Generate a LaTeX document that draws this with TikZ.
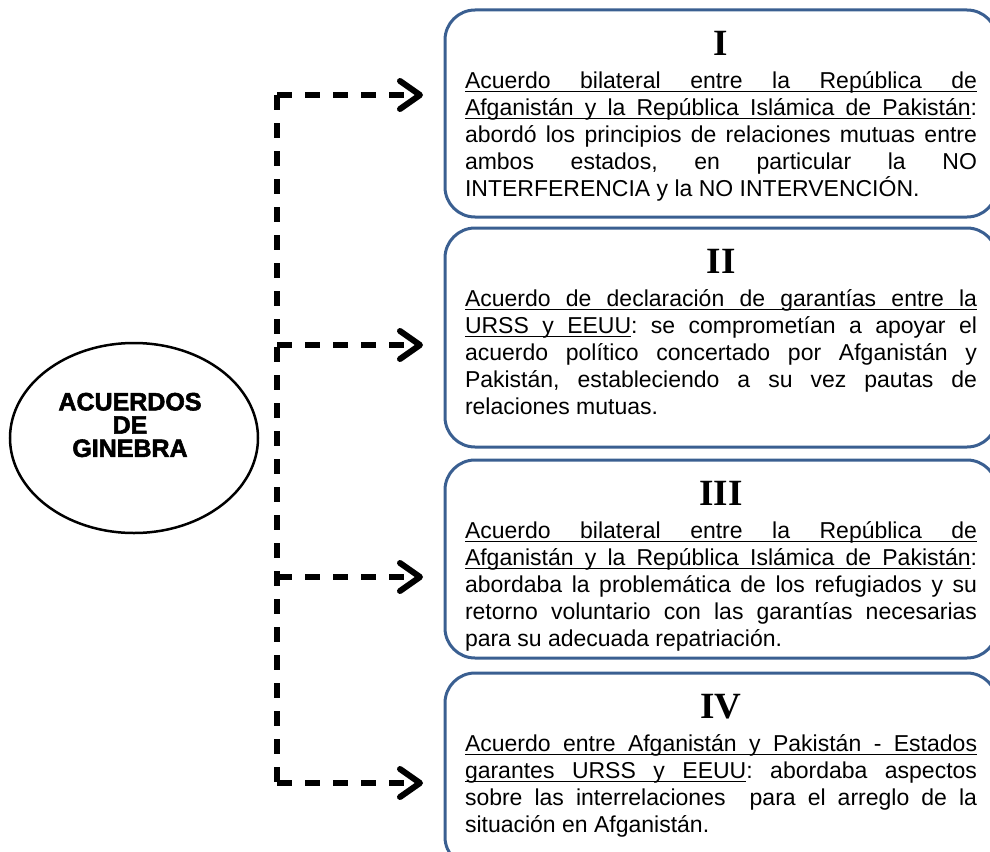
\documentclass[tikz,border=0pt]{standalone}
\usepackage{fontspec}
\setmainfont{Liberation Serif}
\setsansfont{Liberation Sans}
\newfontfamily\blackfont[FakeBold=2.2]{Liberation Sans Bold}
\usetikzlibrary{arrows.meta,positioning,shapes.geometric}
\definecolor{frame}{RGB}{58,95,145}
\definecolor{ink}{RGB}{0,0,0}
\tikzset{
  spine/.style={draw=ink,line width=6pt,dash pattern=on 15pt off 13pt},
  flow/.style={spine,shorten >=22pt,
    -{Straight Barb[length=20pt,width=28pt,line cap=round,line join=round]}},
  accord/.style={draw=frame,line width=3pt,rounded corners=30pt,outer sep=0pt,
    inner xsep=20pt,inner ysep=21pt,
    font=\sffamily\fontsize{23}{27}\selectfont\frenchspacing},
  oval/.style={ellipse,draw=ink,line width=2.5pt,minimum width=248pt,minimum height=190pt},
  title/.style={font=\blackfont\fontsize{25}{23.3}\selectfont,align=center},
}
% underlined word and underlined space
\newcommand{\uw}[1]{\leavevmode\setbox0=\hbox{#1}\rlap{\rule[-4pt]{\wd0}{1.3pt}}\box0}
\newcommand{\us}{\leaders\hrule height -2.7pt depth 4pt\hskip\fontdimen2\font plus\fontdimen3\font minus\fontdimen4\font\relax}
\newcommand{\numeral}[1]{{\centering\rmfamily\bfseries\fontsize{37}{37}\selectfont #1\par}\vspace{6pt}\noindent}

\begin{document}
\begin{tikzpicture}[x=1pt,y=-1pt]
  \useasboundingbox (0,0) rectangle (990,851);
  \clip (0,0) rectangle (990,851);
  % central oval
  \node[oval] (gen) at (134,438) {};
  \node[title] (gentitle) at (130,425) {ACUERDOS\\DE\\GINEBRA};
  % the four accords
  \node[accord,anchor=north west] (b1) at (445,10) {\parbox[c][165pt][t]{512pt}{\numeral{I}%
    \uw{Acuerdo}\us\uw{bilateral}\us\uw{entre}\us\uw{la}\us\uw{República}\us\uw{de}\linebreak
    \uw{Afganistán}\us\uw{y}\us\uw{la}\us\uw{República}\us\uw{Islámica}\us\uw{de}\us\uw{Pakistán}: abordó los principios de relaciones mutuas entre\linebreak
    ambos estados, en particular la NO\linebreak
    INTERFERENCIA y la NO INTERVENCIÓN.}};
  \node[accord,below=11pt of b1] (b2) {\parbox[c][177pt][t]{512pt}{\numeral{II}%
    \uw{Acuerdo}\us\uw{de}\us\uw{declaración}\us\uw{de}\us\uw{garantías}\us\uw{entre}\us\uw{la}\linebreak
    \uw{URSS}\us\uw{y}\us\uw{EEUU}: se comprometían a apoyar el\linebreak
    acuerdo político concertado por Afganistán y\linebreak
    Pakistán, estableciendo a su vez pautas de\linebreak
    relaciones mutuas.}};
  \node[accord,below=13pt of b2] (b3) {\parbox[c][156pt][t]{512pt}{\numeral{III}%
    \uw{Acuerdo}\us\uw{bilateral}\us\uw{entre}\us\uw{la}\us\uw{República}\us\uw{de}\linebreak
    \uw{Afganistán}\us\uw{y}\us\uw{la}\us\uw{República}\us\uw{Islámica}\us\uw{de}\us\uw{Pakistán}:\linebreak
    abordaba la problemática de los refugiados y su\linebreak
    retorno voluntario con las garantías necesarias\linebreak
    para su adecuada repatriación.}};
  \node[accord,below=15pt of b3] (b4) {\parbox[c][152pt][t]{512pt}{\numeral{IV}%
    \uw{Acuerdo}\us\uw{entre}\us\uw{Afganistán}\us\uw{y}\us\uw{Pakistán}\us\uw{-}\us\uw{Estados}\linebreak
    \uw{garantes}\us\uw{URSS}\us\uw{y}\us\uw{EEUU}: abordaba aspectos\linebreak
    sobre las interrelaciones~ para el arreglo de la\linebreak
    situación en Afganistán.}};
  % dashed connectors
  \coordinate (j1) at (277,95);
  \coordinate (j2) at (277,345);
  \coordinate (j3) at (277,577);
  \coordinate (j4) at (277,783);
  \draw[spine] (j1) -- (j4);
  \foreach \i in {1,...,4} \draw[flow] (j\i) -- (j\i -| b\i.west);
\end{tikzpicture}
\end{document}
